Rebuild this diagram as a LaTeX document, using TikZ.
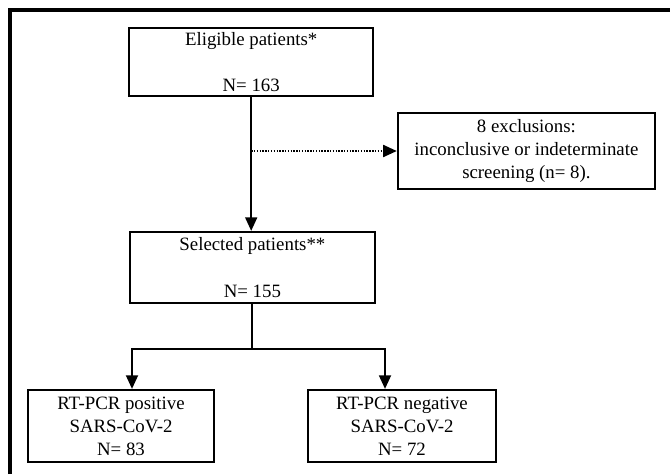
\documentclass[tikz,border=0pt]{standalone}
\usepackage{fontspec}
\setmainfont{Liberation Serif}
\usetikzlibrary{arrows.meta}
\tikzset{
	box/.style={draw, line width=1.6pt, align=center, inner sep=0pt,
		font=\fontsize{13.4}{16.4}\selectfont},
	arr/.style={line width=1.3pt, -{Triangle[length=0.34cm, width=0.3cm]}}
}
\begin{document}
\begin{tikzpicture}
	\useasboundingbox (0,0) rectangle (16.75,11.85);
	\draw[line width=2.4pt] (0.25,0) -- (0.25,11.6) -- (16.75,11.6);
	
	\draw (6.28,10.3)  node[box, minimum width=6.1cm, minimum height=1.7cm] (elig) {Eligible patients*\\[16.4pt]N= 163};
	\draw (13.16,8.075) node[box, minimum width=6.425cm, minimum height=1.9cm] (excl) {8 exclusions:\\inconclusive or indeterminate\\screening (n= 8).};
	\draw (6.31,5.1625) node[box, minimum width=6.125cm, minimum height=1.775cm] (sel) {Selected patients**\\[16.4pt]N= 155};
	\draw (3.025,1.2)  node[box, minimum width=4.65cm, minimum height=1.8cm] (pos) {RT-PCR positive\\SARS-CoV-2\\N= 83};
	\draw (10.05,1.2)  node[box, minimum width=4.7cm, minimum height=1.8cm] (neg) {RT-PCR negative\\SARS-CoV-2\\N= 72};
	
	\coordinate (mid) at (6.28,8.075);
	\coordinate (split) at (6.31,3.125);
	\coordinate (lt) at (3.3,3.125);
	\coordinate (rt) at (9.625,3.125);
	
	\draw[arr] (elig.south -| mid) -- (mid |- sel.north);
	\draw[arr, dash pattern=on 1pt off 1pt] (mid) -- (excl.west);
	\draw[line width=1.3pt] (sel.south) -- (split);
	\draw[arr] (split) -- (lt) -- (lt |- pos.north);
	\draw[arr] (split) -- (rt) -- (rt |- neg.north);
\end{tikzpicture}
\end{document}
